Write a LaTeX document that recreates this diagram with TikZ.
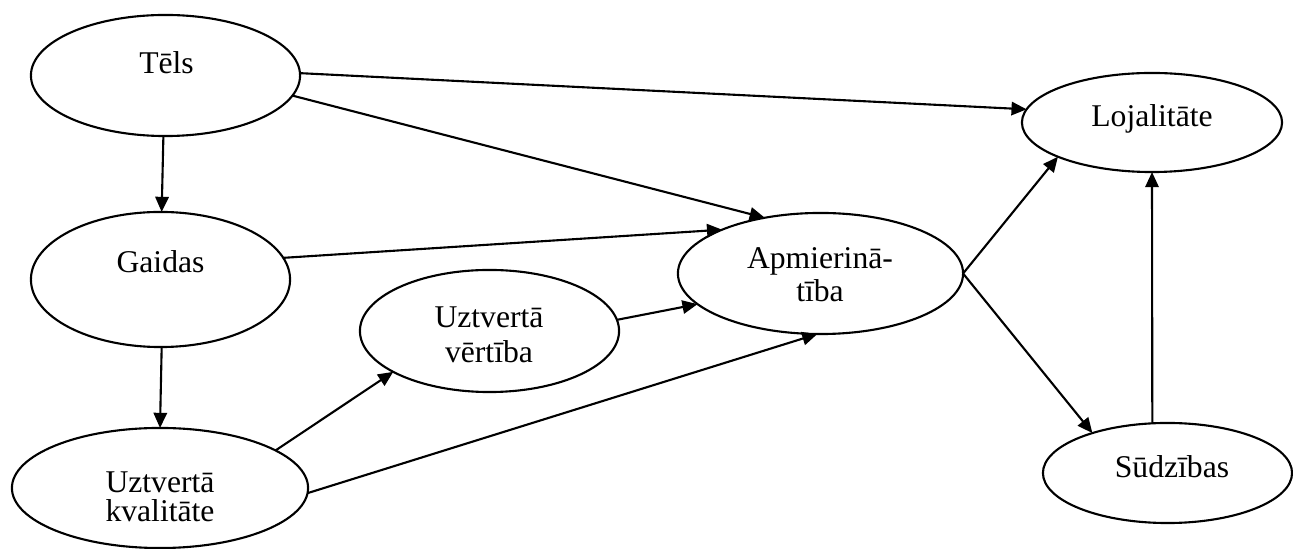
\documentclass[tikz,border=0pt]{standalone}
\usepackage{fontspec}
\setmainfont{Liberation Serif}
\usetikzlibrary{shapes.geometric,arrows.meta}
\begin{document}
\begin{tikzpicture}[x=0.01cm,y=-0.01cm,
  oval/.style={ellipse,draw,line width=0.6pt,inner sep=0pt,outer sep=0pt},
  lbl/.style={anchor=base,align=center,inner sep=0pt,font=\fontsize{9}{8.5}\selectfont},
  link/.style={line width=0.6pt,-{Triangle[length=4.3pt,width=3.8pt]}}]
  \useasboundingbox (0,0) rectangle (1293,549);

  % ovals
  \node[oval,minimum width=2.69cm,minimum height=1.21cm] (tels) at (165.5,75.5) {};
  \node[oval,minimum width=2.59cm,minimum height=1.35cm] (gaidas) at (160.5,279.5) {};
  \node[oval,minimum width=2.96cm,minimum height=1.20cm] (uk) at (160,488) {};
  \node[oval,minimum width=2.59cm,minimum height=1.22cm] (uv) at (489.5,331) {};
  \node[oval,minimum width=2.85cm,minimum height=1.21cm] (apm) at (820.5,273.5) {};
  \node[oval,minimum width=2.60cm,minimum height=0.99cm] (loy) at (1152,122.5) {};
  \node[oval,minimum width=2.49cm,minimum height=1.00cm] (sud) at (1167.5,473) {};

  % labels (base anchor = baseline of the last line)
  \node[lbl] (telsT) at (166.5,74) {Tēls};
  \node[lbl] (gaidasT) at (160.5,273) {Gaidas};
  \node[lbl] (ukT) at (160,522) {Uztvertā\\kvalitāte};
  \node[lbl] (uvT) at (489,363) {Uztvertā\\[1.6pt]vērtība};
  \node[lbl] (apmT) at (820,302) {Apmierinā-\\[1.1pt]tība};
  \node[lbl] (loyT) at (1152,127) {Lojalitāte};
  \node[lbl] (sudT) at (1172,478) {Sūdzības};

  % links
  \draw[link] (tels.1) -- (loy.174);
  \draw[link] (tels.-9.4) -- (apm.135);
  \draw[link] (tels.268) -- (gaidas.89);
  \draw[link] (gaidas.10) -- (apm.156);
  \draw[link] (gaidas.271) -- (uk.north);
  \draw[link] (uk.18) -- (uv.203);
  \draw[link] (uk.-2) -- (apm.267);
  \draw[link] (uv.5) -- (apm.194);
  \draw[link] (apm.0) -- (loy.200);
  \draw[link] (apm.0) -- (sud.152);
  \draw[link] (sud.107) -- (loy.south);
\end{tikzpicture}
\end{document}
